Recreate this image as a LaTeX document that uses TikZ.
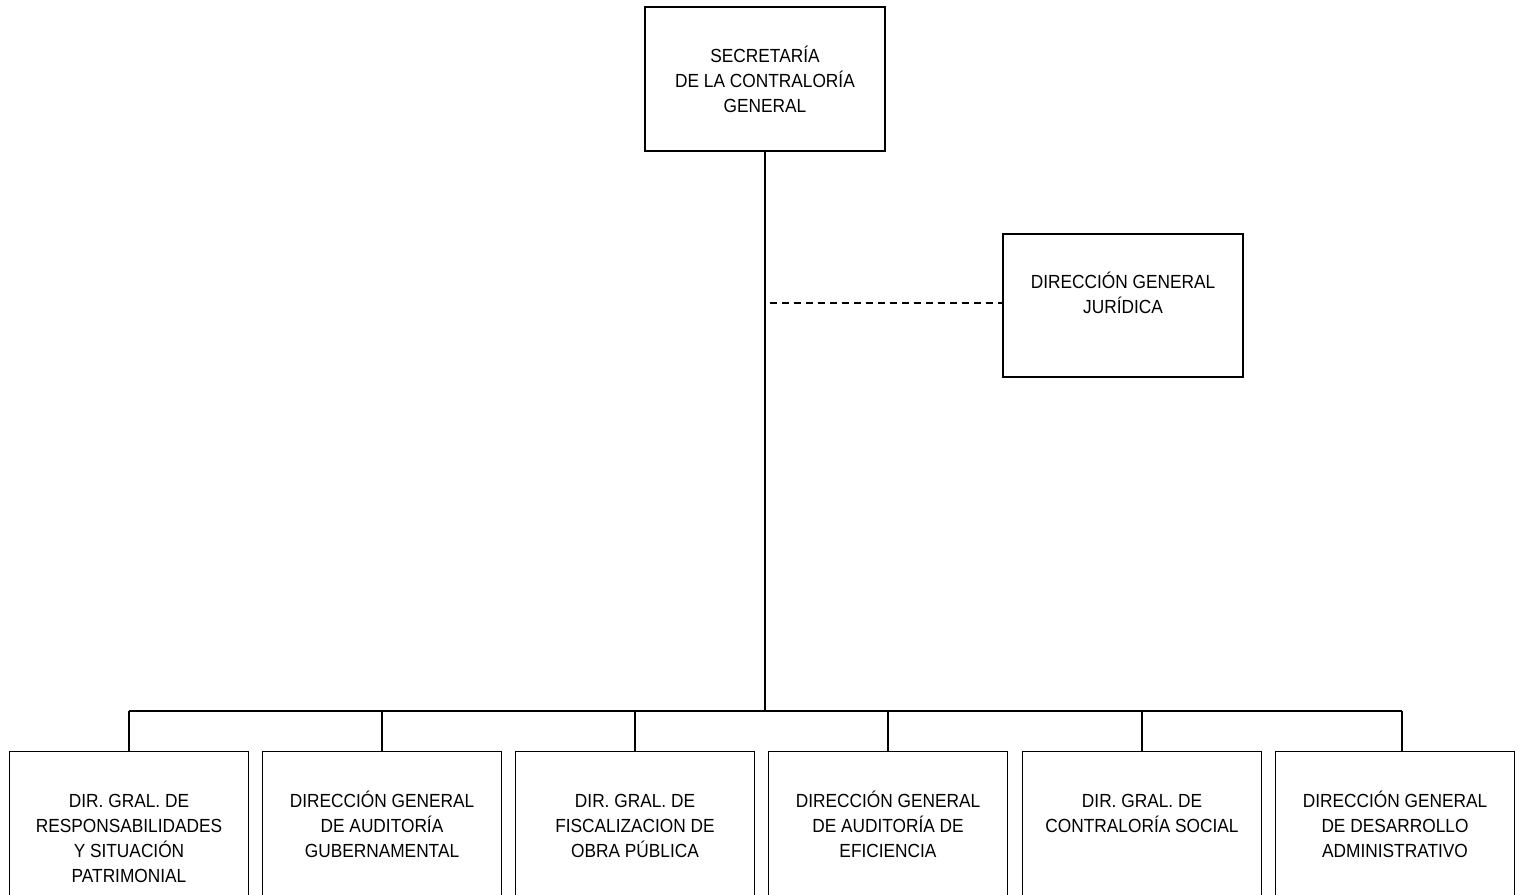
\documentclass[tikz,border=0pt]{standalone}
\usepackage{fontspec}
\setmainfont{Liberation Sans}[FakeStretch=0.91]
\newcommand{\fstrut}{\rule{0pt}{18pt}}
\begin{document}
\begin{tikzpicture}[x=1pt,y=-1pt,
  boxstyle/.style={draw,line width=1.4pt,minimum width=240pt,inner sep=0pt},
  lbl/.style={align=center,font=\fontsize{19}{25}\selectfont,inner sep=0pt,anchor=north},
  conn/.style={line width=1.4pt}]
\useasboundingbox (0,0) rectangle (1522,894);
\begin{scope}
\clip (0,0) rectangle (1522,894);
% top
\node[boxstyle,minimum height=144pt] (sec) at (765,79) {};
\node[lbl] (secl) at (765,44) {\fstrut SECRETARÍA\\DE LA CONTRALORÍA\\GENERAL};
% juridica
\node[boxstyle,minimum height=143pt] (jur) at (1123,305.5) {};
\node[lbl] (jurl) at (1123,270) {\fstrut DIRECCIÓN GENERAL\\JURÍDICA};
% bottom boxes
\foreach \i/\x/\t in {1/129/{DIR. GRAL. DE\\RESPONSABILIDADES\\Y SITUACIÓN\\PATRIMONIAL},
  2/382/{DIRECCIÓN GENERAL\\DE AUDITORÍA\\GUBERNAMENTAL},
  3/635/{DIR. GRAL. DE\\FISCALIZACION DE\\OBRA PÚBLICA},
  4/888/{DIRECCIÓN GENERAL\\DE AUDITORÍA DE\\EFICIENCIA},
  5/1142/{DIR. GRAL. DE\\CONTRALORÍA SOCIAL},
  6/1395/{DIRECCIÓN GENERAL\\DE DESARROLLO\\ADMINISTRATIVO}}{
  \node[boxstyle,minimum width=239pt,minimum height=160pt,anchor=north] (b\i) at (\x,751) {};
  \node[lbl] (l\i) at (\x,789) {\fstrut\t};
}
\coordinate (bus) at (765,711);
\coordinate (busL) at (129,711);
\coordinate (busR) at (1402,711);
\coordinate (dashstart) at (770,303);
\draw[conn] (sec.south) -- (bus);
\draw[conn] (busL) -- (busR);
\foreach \i in {1,...,5}{\draw[conn] (b\i.north |- bus) -- (b\i.north);}
\draw[conn] (busR) -- (busR |- b6.north);
\draw[conn,dash pattern=on 7pt off 5pt] (dashstart) -- (jur.west |- dashstart);
\end{scope}
\end{tikzpicture}
\end{document}
